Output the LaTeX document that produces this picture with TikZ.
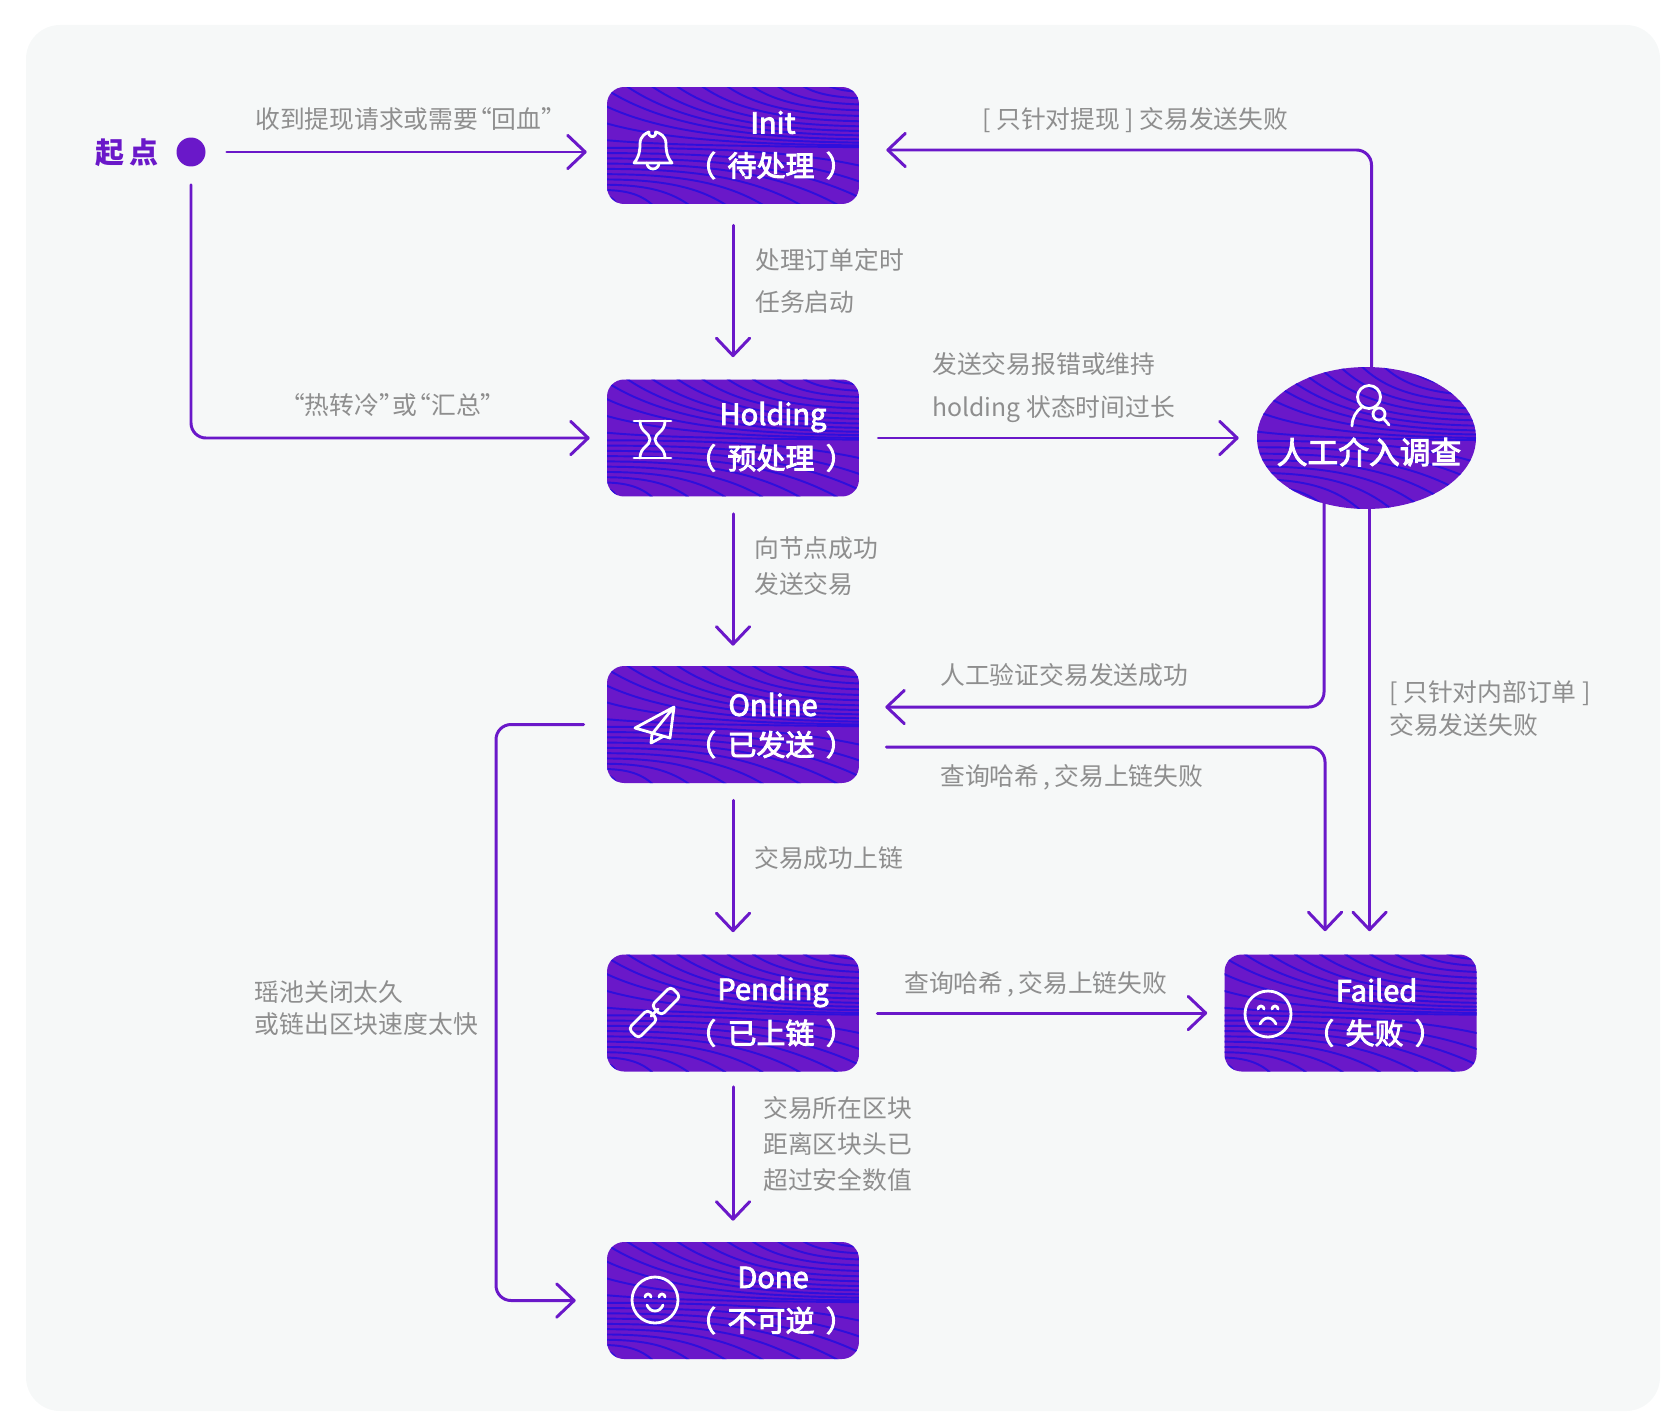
\documentclass[tikz,border=0pt]{standalone}
\usepackage{fontspec}
\setmainfont{Noto Sans CJK SC}
\newfontfamily\boxfont[FakeBold=3]{Noto Sans CJK SC}
\usetikzlibrary{arrows.meta,shapes.geometric}
\definecolor{flowpurple}{HTML}{6A18C9}
\definecolor{waveblue}{HTML}{2E0FDC}
\definecolor{notegray}{HTML}{8E8E8E}
\definecolor{panelgray}{HTML}{F6F8F8}
\newcommand{\qk}{\kern-.45em}
\tikzset{
	flow/.style={draw=flowpurple,line width=1.7pt,rounded corners=0.3cm,line cap=round,-{Straight Barb[length=10pt,width=19pt,round]}},
	note/.style={text=notegray,font=\fontsize{14.1}{16}\selectfont,anchor=west,inner sep=0pt},
	statebox/.style={rectangle,rounded corners=0.34cm,fill=flowpurple,minimum width=5.04cm,minimum height=2.34cm,inner sep=0pt,path picture={\wavelines{2.52}{1.17}}},
	statetext/.style={text=white,font=\boxfont\fontsize{16.5}{18}\selectfont,inner sep=0pt},
	icon/.style={draw=white,line width=1.6pt,line cap=round,line join=round}
}
\newcommand{\wavelines}[2]{%
	\begin{scope}[shift={(path picture bounding box.center)},x=#1cm,y=#2cm,draw=waveblue,line width=1.1pt]
		\foreach \i in {0,...,13}{% from the upper left, down to the right side
			\pgfmathsetmacro\s{\i/13}
			\pgfmathsetmacro\xa{ifthenelse(\s<0.25,-1.05,-1.05+(\s-0.25)/0.75*1.95)}
			\pgfmathsetmacro\ya{ifthenelse(\s<0.25,0.1+4*\s,1.1)}
			\pgfmathsetmacro\r{-0.03+1.05*pow(\s+0.001,1.4)}
			\draw (\xa,\ya) .. controls ({\xa+0.22*(1.05-\xa)},{\ya-0.75*(\ya-\r)}) and ({\xa+0.55*(1.05-\xa)},{\r+0.02}) .. (1.05,\r);
		}
		\foreach \i in {1,...,10}{% from the left side, down to the lower edges
			\pgfmathsetmacro\s{\i/10}
			\pgfmathsetmacro\ya{0.05-0.9*\s}
			\pgfmathsetmacro\xe{ifthenelse(\s<0.35,1.05,1.05-(\s-0.35)/0.65*1.95)}
			\pgfmathsetmacro\ye{ifthenelse(\s<0.35,-0.08-\s/0.35,-1.1)}
			\draw (-1.05,\ya) .. controls ({-1.05+0.45*(\xe+1.05)},{\ya}) and ({\xe-0.25*(\xe+1.05)},{\ye+0.8*(\ya-\ye)}) .. (\xe,\ye);
		}
	\end{scope}}
\begin{document}
\begin{tikzpicture}[x=0.02cm,y=-0.02cm]
	\useasboundingbox (0,0) rectangle (1675,1416);
	\fill[panelgray,rounded corners=0.68cm] (26,25) rectangle (1660,1411);
	% states
	\foreach \Coord/\State/\Head/\Sub/\Dx/\Dy in {(733,145.5)/init/Init/（\, 待处理 \,）/40/-23,(733,438)/holding/Holding/（\, 预处理 \,）/40/-21,(733,724.5)/online/Online/（\, 已发送 \,）/40/-20,(733,1013)/pending/Pending/（\, 已上链 \,）/40/-21,(733,1300.5)/done/Done/（\, 不可逆 \,）/40/-23,(1350.5,1013)/failed/Failed/（\, 失败 \,）/26/-23}{
		\node[statebox] (\State) at \Coord {};
		\node[statetext] (\State head) at ([shift={(\Dx,\Dy)}]\State.center) {\Head};
		\node[statetext] (\State sub) at ([shift={(\Dx-2,20)}]\State.center) {\Sub};
	}
	\node[ellipse,fill=flowpurple,minimum width=4.38cm,minimum height=2.84cm,inner sep=0pt,path picture={\wavelines{2.19}{1.42}}] (person) at (1366.5,438) {};
	\node[statetext,font=\boxfont\fontsize{17.5}{20}\selectfont] (persontext) at (1369,452) {人工介入调查};
	\node[circle,fill=flowpurple,minimum size=0.58cm,inner sep=0pt] (start) at (191,152) {};
	\node[text=flowpurple,font=\bfseries\fontsize{16.5}{18}\selectfont,inner sep=0pt] (starttext) at (127,153) {起\,点};
	\coordinate (bus) at (496,1012);
	% connectors
	\draw[flow,shorten <=0.42cm,shorten >=0.4cm] (start.east) -- (start -| init.west);
	\draw[flow,shorten <=0.36cm,shorten >=0.34cm] (start.south) |- (holding.west);
	\draw[flow,shorten <=0.42cm,shorten >=0.44cm] (init.south) -- (holding.north);
	\draw[flow,shorten <=0.34cm,shorten >=0.4cm] (holding.south) -- (online.north);
	\draw[flow,shorten <=0.34cm,shorten >=0.44cm] (online.south) -- (pending.north);
	\draw[flow,shorten <=0.3cm,shorten >=0.42cm] (pending.south) -- (done.north);
	\draw[flow,shorten <=0.38cm,shorten >=0.36cm] (holding.east) -- (person.west);
	\draw[flow,shorten <=0.36cm,shorten >=0.34cm] (pending.east) -- (failed.west);
	\draw[flow,shorten >=0.54cm] ([xshift=0.1cm]person.north) |- ([yshift=-0.09cm]init.east);
	\draw[flow,shorten <=1.3cm,shorten >=0.52cm] ([xshift=-0.85cm]person.center) |- ([yshift=0.35cm]online.east);
	\draw[flow,shorten <=0.54cm,shorten >=0.46cm] ([yshift=-0.45cm]online.east) -| ([xshift=-0.51cm]failed.north);
	\draw[flow,shorten >=0.46cm] ([xshift=0.06cm]person.south) -- ([xshift=0.06cm]person.south |- failed.north);
	\draw[flow,shorten <=0.46cm,shorten >=0.62cm] (online.west) -- (bus |- online.west) -- (bus |- done.west) -- (done.west);
	% labels
	\foreach \Coord/\Texte in {(255,119)/收到提现请求或需要\qk“回血”,(291,405)/\qk“热转冷”\qk 或\qk“汇总”,(755,260)/处理订单定时,(755,302)/任务启动,(982,120)/{[ 只针对提现 ] 交易发送失败},(932,364)/发送交易报错或维持,(932,409)/holding 状态时间过长,(754,548)/向节点成功,(754,584)/发送交易,(940,675)/人工验证交易发送成功,(940,777)/{查询哈希\,,\,交易上链失败},(754,858)/交易成功上链,(1389,693)/{[ 只针对内部订单 ]},(1389,725)/交易发送失败,(904,984)/{查询哈希\,,\,交易上链失败},(763,1108)/交易所在区块,(763,1144)/距离区块头已,(763,1180)/超过安全数值,(254.5,992)/瑶池关闭太久,(254.5,1024)/或链出区块速度太快}
	\node[note] at \Coord {\Texte};
	% icons
	\draw[icon] (634,163) .. controls (640,156) and (640,148) .. (640,144) .. controls (640,136) and (646,133) .. (649,132) arc[start angle=200,end angle=-20,radius=3.5] .. controls (660,133) and (666,136) .. (666,144) .. controls (666,148) and (666,156) .. (672,163) -- cycle; %bell
	\draw[icon] (647,163) arc[start angle=180,end angle=0,radius=6]; %clapper
	\draw[icon] (634,421)--(671,421) (634,458)--(671,458);
	\draw[icon] (640,421) .. controls (640,432) and (650,433) .. (650,439.5) .. controls (650,446) and (640,447) .. (640,458);
	\draw[icon] (665,421) .. controls (665,432) and (655,433) .. (655,439.5) .. controls (655,446) and (665,447) .. (665,458);
	\draw[icon] (674,707)--(635,728)--(670,738)--cycle (674,707)--(652,734)--(651,743)--(664,736); %plane
	\draw[icon,rounded corners=0.08cm,rotate around={45:(666,1001)}] (652.5,994) rectangle (679.5,1008);
	\draw[icon,rounded corners=0.08cm,rotate around={45:(643,1024)}] (629.5,1017) rectangle (656.5,1031);
	\draw[icon] (651,1016)--(658,1009);
	\draw[icon] (1268,1014) circle[radius=23];
	\draw[icon] (1258,1009) arc[start angle=180,end angle=360,radius=3] (1272,1009) arc[start angle=180,end angle=360,radius=3];
	\draw[icon] (1260,1024) .. controls (1264,1016) and (1272,1016) .. (1276,1024);
	\draw[icon] (655,1300) circle[radius=23];
	\draw[icon] (645,1297) arc[start angle=180,end angle=360,radius=3] (659,1297) arc[start angle=180,end angle=360,radius=3];
	\draw[icon] (647,1305) .. controls (650,1313) and (660,1313) .. (663,1305);
	\draw[icon] (1369,397) circle[radius=11.5];
	\draw[icon] (1352,426) .. controls (1352,418) and (1356,411) .. (1362,407);
	\draw[icon] (1379,414) circle[radius=6] (1384,419)--(1389,425);
\end{tikzpicture}
\end{document}
